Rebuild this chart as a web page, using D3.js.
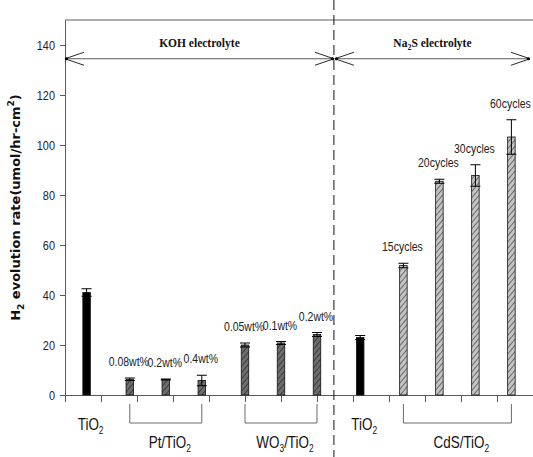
<!DOCTYPE html>
<html>
<head>
<meta charset="utf-8">
<script src="https://cdn.jsdelivr.net/npm/d3@7"></script>
<style>
  body { margin: 0; background: #fff; }
  svg { display: block; }
</style>
</head>
<body>
<div id="chart"></div>
<script>
// values
var barX = [0.6, 1.8, 2.8, 3.8, 5.0, 6.0, 7.0, 8.2, 9.4, 10.4, 11.4, 12.4];
var rates = [41, 6.3, 6.2, 5.8, 20, 20.8, 24.2, 23, 51.8, 85.5, 87.8, 103.2];
var errs = [1.5, 0.5, 0.2, 2.1, 0.8, 0.6, 0.8, 0.8, 0.9, 0.8, 4.3, 6.9];
var kinds = ["solid", "dark", "dark", "dark", "dark", "dark", "dark", "solid", "light", "light", "light", "light"];
var barLabels = ["", "0.08wt%", "0.2wt%", "0.4wt%", "0.05wt%", "0.1wt%", "0.2wt%", "", "15cycles", "20cycles", "30cycles", "60cycles"];
var groupOf = [0, 1, 1, 1, 2, 2, 2, 3, 4, 4, 4, 4];
var groupNames = [["TiO", "2", ""], ["Pt/TiO", "2", ""], ["WO", "3", "/TiO", "2"], ["TiO", "2", ""], ["CdS/TiO", "2", ""]];
var yTicks = [0, 20, 40, 60, 80, 100, 120, 140];
var split = 7.47;          // KOH | Na2S boundary
var arrowLevel = 134.5;

var width = 533, height = 457;
var margin = { left: 65, right: 0, top: 20, bottom: 62 };

var svg = d3.select("#chart").append("svg")
    .attr("width", width)
    .attr("height", height);

var x = d3.scaleLinear().domain([0, 13]).range([margin.left, width - margin.right]);
var y = d3.scaleLinear().domain([0, 150]).range([height - margin.bottom, margin.top]);

var sans = "Arial, 'Liberation Sans', sans-serif";
var squeeze = 0.84;   // the original uses a condensed face
var axisColor = "#5a5a5a";

function narrowText(sel, px, py) {
    return sel.append("text")
        .attr("transform", "translate(" + px + "," + py + ") scale(" + squeeze + ",1)")
        .attr("font-family", sans);
}

// hatch patterns
var defs = svg.append("defs");
function hatch(id, bg, fg) {
    var p = defs.append("pattern")
        .attr("id", id)
        .attr("patternUnits", "userSpaceOnUse")
        .attr("width", 4).attr("height", 4)
        .attr("patternTransform", "rotate(40)");
    p.append("rect").attr("width", 4).attr("height", 4).attr("fill", bg);
    p.append("line").attr("x1", 0).attr("y1", 0).attr("x2", 0).attr("y2", 4)
        .attr("stroke", fg).attr("stroke-width", 1.3);
}
hatch("hDark", "#6e6e6e", "#1e1e1e");
hatch("hLight", "#c4c4c4", "#3a3a3a");
var fills = { solid: "#000", dark: "url(#hDark)", light: "url(#hLight)" };

// axes
var yAxis = svg.append("g")
    .attr("transform", "translate(" + margin.left + ",0)")
    .call(d3.axisLeft(y).tickValues(yTicks).tickSize(5).tickSizeOuter(0));
yAxis.select(".domain").attr("stroke", axisColor);
yAxis.selectAll(".tick line").attr("stroke", axisColor);
yAxis.selectAll(".tick text")
    .attr("font-family", sans).attr("font-size", 13).attr("fill", "#222")
    .attr("x", -10 / squeeze)
    .attr("transform", "scale(" + squeeze + ",1)");

var xAxis = svg.append("g")
    .attr("transform", "translate(0," + y(0) + ")")
    .call(d3.axisBottom(x).tickValues(d3.range(0, 14)).tickSize(7).tickSizeOuter(0).tickFormat(""));
xAxis.select(".domain").attr("stroke", axisColor);
xAxis.selectAll(".tick line").attr("stroke", axisColor);

svg.append("line")
    .attr("x1", x(0)).attr("x2", x(13))
    .attr("y1", y(150)).attr("y2", y(150))
    .attr("stroke", axisColor);

// y label
svg.append("text")
    .attr("transform", "translate(20," + ((y(0) + y(150)) / 2) + ") rotate(-90)")
    .attr("text-anchor", "middle")
    .attr("font-family", "'DejaVu Sans', Verdana, sans-serif")
    .attr("font-weight", "bold")
    .attr("font-size", 13)
    .attr("fill", "#111")
    .call(function(t) {
        t.append("tspan").text("H");
        t.append("tspan").attr("font-size", 9).attr("dy", 4).text("2");
        t.append("tspan").attr("dy", -4).text(" evolution rate(umol/hr-cm");
        t.append("tspan").attr("font-size", 9).attr("dy", -6).text("2");
        t.append("tspan").attr("dy", 6).text(")");
    });

// bars
var bw = 7.5;
var idx = d3.range(rates.length);
svg.append("g").selectAll("rect")
    .data(idx)
    .join("rect")
    .attr("x", function(i) { return x(barX[i]) - bw / 2; })
    .attr("y", function(i) { return y(rates[i]); })
    .attr("width", bw)
    .attr("height", function(i) { return y(0) - y(rates[i]); })
    .attr("fill", function(i) { return fills[kinds[i]]; })
    .attr("stroke", "#111")
    .attr("stroke-width", 0.8);

// error bars
var eb = svg.append("g").attr("stroke", "#000").attr("stroke-width", 1);
idx.forEach(function(i) {
    var cx = x(barX[i]);
    eb.append("line").attr("x1", cx).attr("x2", cx)
        .attr("y1", y(rates[i] - errs[i])).attr("y2", y(rates[i] + errs[i]));
    [rates[i] - errs[i], rates[i] + errs[i]].forEach(function(v) {
        eb.append("line").attr("x1", cx - 5).attr("x2", cx + 5)
            .attr("y1", y(v)).attr("y2", y(v));
    });
});

// bar annotations
var annot = svg.append("g");
idx.filter(function(i) { return barLabels[i]; }).forEach(function(i) {
    narrowText(annot, x(barX[i]) - 1, y(rates[i] + errs[i]) - 12)
        .attr("text-anchor", "middle")
        .attr("font-size", 12.5)
        .attr("fill", "#222")
        .text(barLabels[i]);
});

// brackets and group labels under the axis
var bracketTop = y(0) + 9, bracketBottom = y(0) + 28;
var gl = svg.append("g");
groupNames.forEach(function(name, g) {
    var members = idx.filter(function(i) { return groupOf[i] === g; });
    var x0 = x(barX[members[0]]), x1 = x(barX[members[members.length - 1]]);
    var ty;
    if (members.length > 1) {
        gl.append("path")
            .attr("d", "M" + x0 + "," + bracketTop + "V" + bracketBottom + "H" + x1 + "V" + bracketTop)
            .attr("fill", "none")
            .attr("stroke", "#6a6a6a");
        ty = bracketBottom + 25;
    } else {
        ty = y(0) + 35;
    }
    var t = narrowText(gl, (x0 + x1) / 2 + 4, ty)
        .attr("text-anchor", "middle")
        .attr("font-size", 16)
        .attr("fill", "#111");
    t.append("tspan").text(name[0]);
    t.append("tspan").attr("font-size", 10).attr("dy", 4).text(name[1]);
    if (name[2]) t.append("tspan").attr("dy", -4).text(name[2]);
    if (name[3]) t.append("tspan").attr("font-size", 10).attr("dy", 4).text(name[3]);
});

// dashed separator
svg.append("line")
    .attr("x1", x(split)).attr("x2", x(split))
    .attr("y1", 0).attr("y2", height)
    .attr("stroke", "#111")
    .attr("stroke-dasharray", "10,5");

// electrolyte arrows
var ay = y(arrowLevel);
function arrow(xa, xb, label, sub) {
    svg.append("line").attr("x1", xa).attr("x2", xb).attr("y1", ay).attr("y2", ay)
        .attr("stroke", axisColor);
    [[xa, 1], [xb, -1]].forEach(function(e) {
        svg.append("path")
            .attr("d", "M" + (e[0] + e[1] * 19) + "," + (ay - 6.5) + "L" + e[0] + "," + ay +
                "L" + (e[0] + e[1] * 19) + "," + (ay + 6.5))
            .attr("fill", "none").attr("stroke", "#111").attr("stroke-width", 0.9);
        svg.append("circle").attr("cx", e[0] + e[1] * 1.5).attr("cy", ay).attr("r", 1.6).attr("fill", "#000");
    });
    var t = svg.append("text")
        .attr("x", (xa + xb) / 2)
        .attr("y", ay - 12)
        .attr("text-anchor", "middle")
        .attr("font-family", "'Liberation Serif', 'Times New Roman', serif")
        .attr("font-weight", "bold")
        .attr("font-size", 11.5)
        .attr("fill", "#111");
    if (sub) {
        t.append("tspan").text(label[0]);
        t.append("tspan").attr("font-size", 8).attr("dy", 3).text(label[1]);
        t.append("tspan").attr("dy", -3).text(label[2]);
    } else {
        t.text(label);
    }
}
arrow(x(0), x(split), "KOH electrolyte", false);
arrow(x(split) + 1, x(13) - 3, ["Na", "2", "S electrolyte"], true);
</script>
</body>
</html>
